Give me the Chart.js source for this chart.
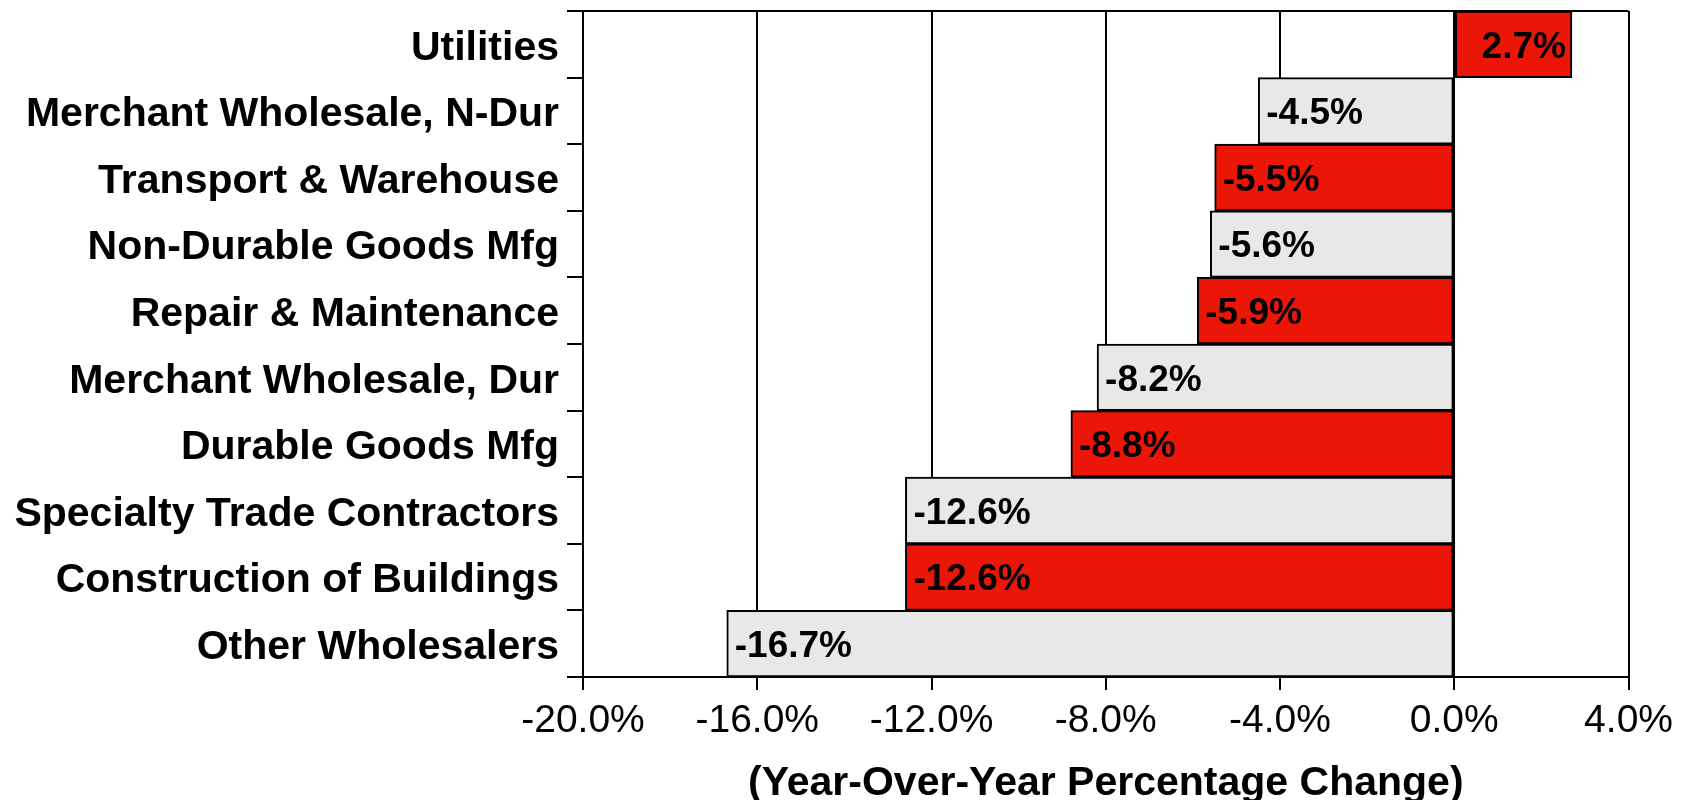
<!DOCTYPE html>
<html>
<head>
<meta charset="utf-8">
<script src="https://cdn.jsdelivr.net/npm/chart.js@4"></script>
<style>
  html, body { margin: 0; padding: 0; background: #fff; }
  #wrap { width: 1681px; height: 800px; }
</style>
</head>
<body>
<div id="wrap"><canvas id="yoyChart"></canvas></div>
<script>
const categories = [
  'Utilities',
  'Merchant Wholesale, N-Dur',
  'Transport & Warehouse',
  'Non-Durable Goods Mfg',
  'Repair & Maintenance',
  'Merchant Wholesale, Dur',
  'Durable Goods Mfg',
  'Specialty Trade Contractors',
  'Construction of Buildings',
  'Other Wholesalers'
];
const changes = [2.7, -4.5, -5.5, -5.6, -5.9, -8.2, -8.8, -12.6, -12.6, -16.7];
const xTicks = [-20, -16, -12, -8, -4, 0, 4];
const axisTitle = '(Year-Over-Year Percentage Change)';

const RED = '#EC1608';
const GREY = '#E8E8E8';
const FONT = '"Liberation Sans", Arial, sans-serif';

/* ================= LABELS + FRAME ================= */
const barLabels = {
  id: 'barLabels',
  afterDatasetsDraw(chart) {
    const ctx = chart.ctx;
    const meta = chart.getDatasetMeta(0);
    ctx.save();
    ctx.font = 'bold 37px ' + FONT;
    ctx.fillStyle = '#000';
    ctx.textBaseline = 'middle';
    meta.data.forEach((bar, i) => {
      const v = changes[i];
      const txt = v.toFixed(1) + '%';
      if (v < 0) {
        ctx.textAlign = 'left';
        ctx.fillText(txt, bar.x + 8, bar.y + 3);
      } else {
        ctx.textAlign = 'right';
        ctx.fillText(txt, bar.x - 6, bar.y + 3);
      }
    });
    ctx.restore();
  }
};

const frame = {
  id: 'frame',
  beforeDatasetsDraw(chart) {
    const { ctx, chartArea } = chart;
    ctx.save();
    ctx.strokeStyle = '#000';
    ctx.lineWidth = 2;
    ctx.beginPath();
    ctx.moveTo(chartArea.left, chartArea.top);
    ctx.lineTo(chartArea.right, chartArea.top);
    ctx.stroke();
    ctx.restore();
  }
};

new Chart(document.getElementById('yoyChart').getContext('2d'), {
  type: 'bar',
  data: {
    labels: categories,
    datasets: [{
      data: changes,
      backgroundColor: changes.map((v, i) => i % 2 === 0 ? RED : GREY),
      borderColor: '#000',
      borderWidth: 2,
      borderSkipped: false,
      barPercentage: 1,
      categoryPercentage: 1
    }]
  },
  options: {
    indexAxis: 'y',
    responsive: true,
    maintainAspectRatio: false,
    animation: false,
    layout: { padding: { top: 11, right: 52, left: 0, bottom: 0 } },
    plugins: {
      legend: { display: false },
      tooltip: { enabled: false }
    },
    scales: {
      x: {
        min: xTicks[0],
        max: xTicks[xTicks.length - 1],
        afterBuildTicks(scale) {
          scale.ticks = xTicks.map(v => ({ value: v }));
        },
        afterFit(scale) { scale.height = 123; },
        grid: {
          color: '#000',
          lineWidth: 2,
          tickLength: 13,
          drawOnChartArea: true
        },
        border: { display: true, color: '#000', width: 2 },
        ticks: {
          color: '#000',
          padding: 8,
          font: { family: FONT, size: 39 },
          callback: v => v.toFixed(1) + '%'
        },
        title: {
          display: true,
          text: axisTitle,
          color: '#000',
          font: { family: FONT, size: 41, weight: 'bold', lineHeight: 0.8 },
          padding: { top: 0, bottom: 0 }
        }
      },
      y: {
        afterFit(scale) {
          scale.width = 583;
          scale.paddingTop = 0;
          scale.paddingBottom = 0;
        },
        grid: {
          color: '#000',
          lineWidth: 2,
          tickLength: 16,
          drawOnChartArea: false,
          offset: true
        },
        border: { display: true, color: '#000', width: 2 },
        ticks: {
          color: '#000',
          padding: 8,
          labelOffset: 4,
          font: { family: FONT, size: 41, weight: 'bold' }
        }
      }
    }
  },
  plugins: [frame, barLabels]
});
</script>
</body>
</html>
